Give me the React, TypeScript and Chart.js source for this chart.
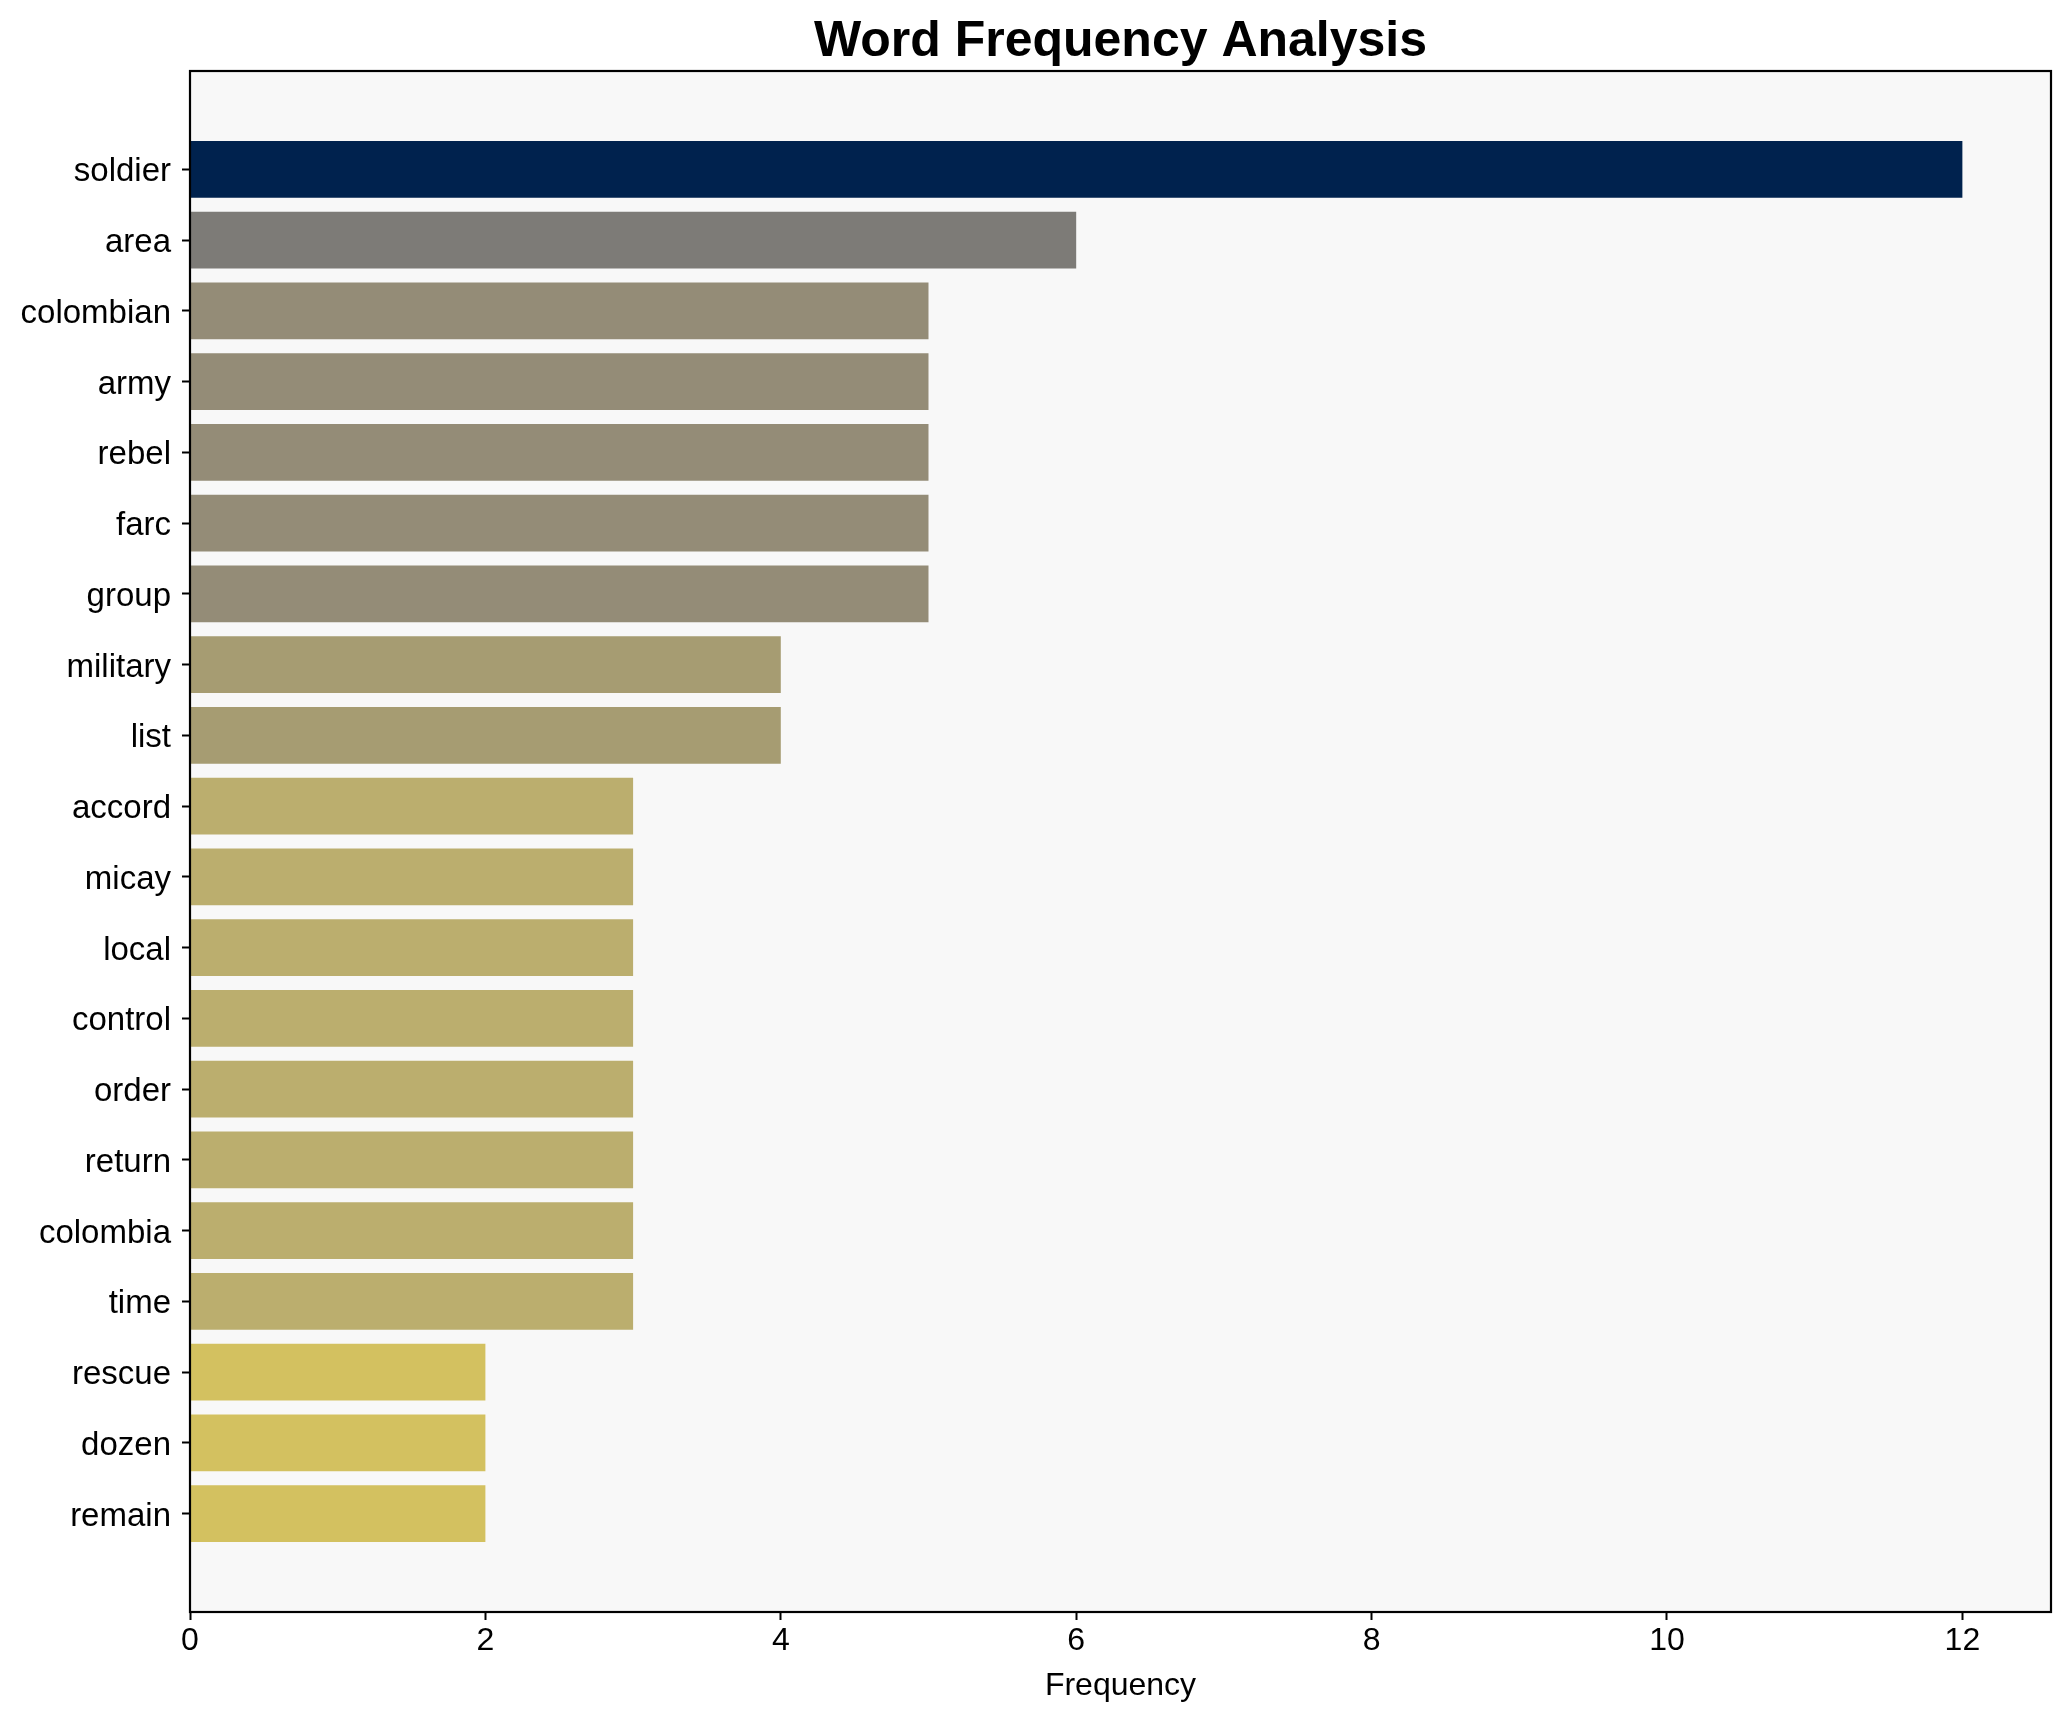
import React, { useEffect, useRef } from 'react';
import { Chart, registerables } from 'chart.js';

Chart.register(...registerables);

const words = [
  'soldier', 'area', 'colombian', 'army', 'rebel', 'farc', 'group', 'military', 'list', 'accord',
  'micay', 'local', 'control', 'order', 'return', 'colombia', 'time', 'rescue', 'dozen', 'remain',
];
const counts = [12, 6, 5, 5, 5, 5, 5, 4, 4, 3, 3, 3, 3, 3, 3, 3, 3, 2, 2, 2];
const colorByCount: Record<number, string> = {
  12: '#00224e',
  6: '#7d7b77',
  5: '#948c77',
  4: '#a69c72',
  3: '#bbae6e',
  2: '#d3c160',
};
const xTicks = [0, 2, 4, 6, 8, 10, 12];
const titleText = 'Word Frequency Analysis';
const xLabel = 'Frequency';

const FONT = "'Liberation Sans', Arial, Helvetica, sans-serif";

const framePlugin = {
  id: 'frame',
  beforeDraw(chart: any) {
    const { ctx, chartArea } = chart;
    const { left, top, width, height } = chartArea;
    ctx.save();
    ctx.fillStyle = '#ffffff';
    ctx.fillRect(0, 0, chart.width, chart.height);
    ctx.fillStyle = '#f8f8f8';
    ctx.fillRect(left, top, width, height);
    ctx.restore();
  },
  afterDatasetsDraw(chart: any) {
    const { ctx, chartArea } = chart;
    const { left, top, width, height } = chartArea;
    ctx.save();
    ctx.strokeStyle = '#000000';
    ctx.lineWidth = 2.2;
    ctx.strokeRect(left, top, width, height);
    ctx.fillStyle = '#000000';
    ctx.font = `bold 50px ${FONT}`;
    ctx.textAlign = 'center';
    ctx.textBaseline = 'alphabetic';
    ctx.fillText(titleText, left + width / 2, 56);
    ctx.restore();
  },
};

export default function App() {
  const ref = useRef<HTMLCanvasElement | null>(null);

  useEffect(() => {
    document.body.style.margin = '0';
    const canvas = ref.current;
    if (!canvas) return;
    const chart = new Chart(canvas, {
      type: 'bar',
      data: {
        datasets: [
          {
            data: counts.map((c, i) => ({ x: c, y: i })),
            backgroundColor: counts.map((c) => colorByCount[c]),
            borderWidth: 0,
            barPercentage: 0.8,
            categoryPercentage: 1.0,
          },
        ],
      },
      options: {
        indexAxis: 'y',
        responsive: false,
        animation: false,
        devicePixelRatio: 1,
        layout: { padding: { left: 0, right: 20, top: 71, bottom: 0 } },
        plugins: {
          legend: { display: false },
          tooltip: { enabled: false },
          title: { display: false },
        },
        scales: {
          x: {
            type: 'linear',
            position: 'bottom',
            min: 0,
            max: 12.6,
            offset: false,
            afterBuildTicks: (s: any) => {
              s.ticks = xTicks.map((v) => ({ value: v }));
            },
            afterFit: (s: any) => {
              s.height = 110;
            },
            ticks: {
              color: '#000000',
              font: { family: FONT, size: 32 },
              padding: 2,
              autoSkip: false,
              maxRotation: 0,
            },
            grid: {
              drawOnChartArea: false,
              drawTicks: true,
              offset: false,
              tickLength: 8,
              tickWidth: 2,
              tickColor: '#000000',
            },
            border: { display: false },
            title: {
              display: true,
              text: xLabel,
              color: '#000000',
              font: { family: FONT, size: 32, lineHeight: 1.2 },
              padding: { top: 0, bottom: 17 },
            },
          },
          y: {
            type: 'linear',
            reverse: true,
            min: -1.39,
            max: 20.39,
            offset: false,
            afterBuildTicks: (s: any) => {
              s.ticks = words.map((_, i) => ({ value: i }));
            },
            afterFit: (s: any) => {
              s.width = 190;
            },
            ticks: {
              color: '#000000',
              font: { family: FONT, size: 33 },
              padding: 11,
              labelOffset: 3,
              autoSkip: false,
              callback: (v: any) => words[Math.round(Number(v))] ?? '',
            },
            grid: {
              drawOnChartArea: false,
              drawTicks: true,
              offset: false,
              tickLength: 8,
              tickWidth: 2,
              tickColor: '#000000',
            },
            border: { display: false },
          },
        },
      } as any,
      plugins: [framePlugin],
    });
    return () => chart.destroy();
  }, []);

  return (
    <div style={{ width: 2071, height: 1722 }}>
      <canvas ref={ref} width={2071} height={1722} style={{ display: 'block', width: 2071, height: 1722 }} />
    </div>
  );
}
